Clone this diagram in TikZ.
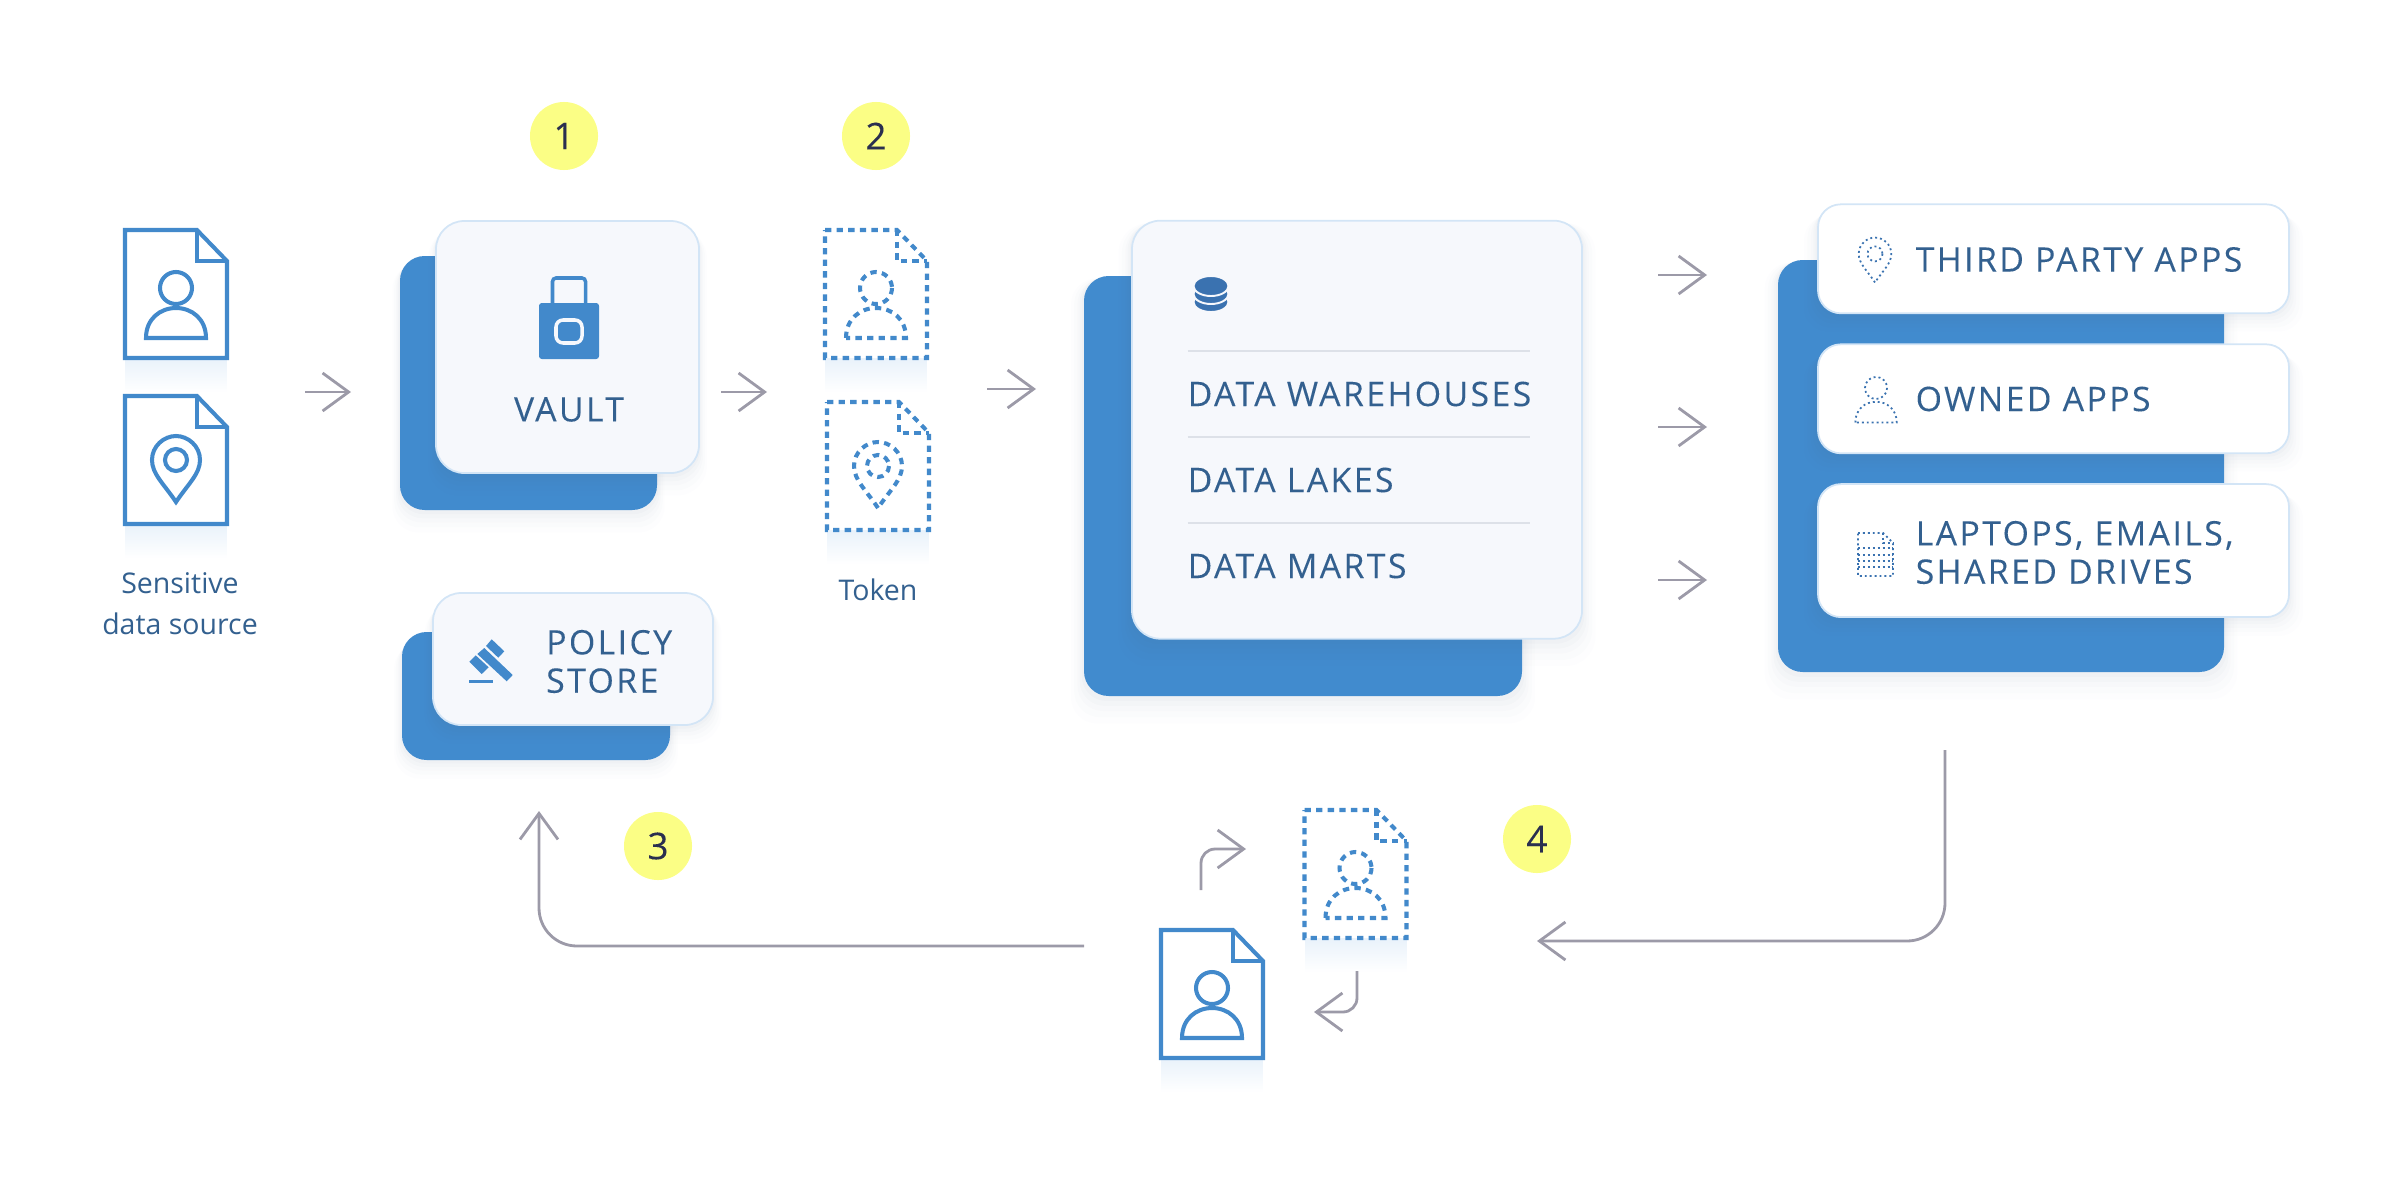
\documentclass[tikz,border=0pt]{standalone}
\usepackage{fontspec}
\setmainfont{Open Sans}
\newfontfamily\capsface[LetterSpace=7.2,FakeBold=.12]{Open Sans}
\newfontfamily\digitface[FakeBold=.15]{Open Sans}
\usetikzlibrary{arrows.meta,shadows,fadings}

\definecolor{panelblue}{HTML}{418BCE}
\definecolor{iconblue}{HTML}{4289CB}
\definecolor{deepblue}{HTML}{3A72B0}
\definecolor{inkblue}{HTML}{33608F}
\definecolor{cardtint}{HTML}{F6F8FC}
\definecolor{cardedge}{HTML}{D3E5F6}
\definecolor{ruletint}{HTML}{DDE1E8}
\definecolor{flowgray}{HTML}{9C9AA8}
\definecolor{badgetint}{HTML}{FBFE85}
\definecolor{badgeink}{HTML}{2A2F4F}
\definecolor{castgray}{HTML}{5A6F8C}
\definecolor{castblue}{HTML}{8FBDE8}

\tikzset{
	boxsize/.style 2 args={minimum width=#1*0.01cm, minimum height=#2*0.01cm, inner sep=0pt},
	softcast/.style={
		general shadow={fill=castgray, opacity=.012, shadow yshift=-4pt, shadow scale=1.06},
		general shadow={fill=castgray, opacity=.016, shadow yshift=-3.2pt, shadow scale=1.045},
		general shadow={fill=castgray, opacity=.02, shadow yshift=-2.4pt, shadow scale=1.03},
		general shadow={fill=castgray, opacity=.024, shadow yshift=-1.6pt, shadow scale=1.02},
		general shadow={fill=castgray, opacity=.03, shadow yshift=-.8pt, shadow scale=1.01}},
	backpanel/.style={rectangle, fill=panelblue, rounded corners=7pt, softcast},
	frontcard/.style={rectangle, fill=cardtint, draw=cardedge, line width=.5pt, rounded corners=8pt, softcast},
	whitecard/.style={frontcard, fill=white, rounded corners=6.5pt},
	capslabel/.style={text=inkblue, inner sep=0pt, font=\capsface\fontsize{9.6}{10.9}\selectfont, align=left},
	smalllabel/.style={text=inkblue, inner sep=0pt, font=\fontsize{8.1}{11.6}\selectfont, align=center},
	badge/.style={circle, fill=badgetint, minimum size=.68cm, inner sep=0pt, text=badgeink, font=\digitface\fontsize{10.5}{12}\selectfont},
	flow/.style={->, draw=flowgray, line width=.8pt},
	solidicon/.style={color=iconblue, line width=1.15pt},
	tokenicon/.style={color=iconblue, line width=1.15pt, dash pattern=on 1.8pt off 1.5pt},
	fineicon/.style={color=deepblue, line width=.5pt, dash pattern=on .55pt off .85pt},
	sheet/.pic={
		\fill[castblue, opacity=.2, path fading=south] (-51,64) rectangle (51,98);
		\draw[fill=white] (-51,-64) -- (21,-64) -- (51,-33) -- (51,64) -- (-51,64) -- cycle;
		\draw (21,-64) -- (21,-33) -- (51,-33);
	},
	personmark/.pic={
		\draw (0,-17) circle (16);
		\draw (-30,33) .. controls (-30,14) and (-16,3) .. (0,3) .. controls (16,3) and (30,14) .. (30,33) -- cycle;
	},
	pinmark/.pic={
		\draw (0,33) .. controls (-12,15) and (-24,5) .. (-24,-9) .. controls (-24,-23) and (-12,-33) .. (0,-33) .. controls (12,-33) and (24,-23) .. (24,-9) .. controls (24,5) and (12,15) .. (0,33) -- cycle;
		\draw (0,-9) circle (11);
	},
}

\begin{document}
\begin{tikzpicture}[x=0.01cm, y=-0.01cm, >={Straight Barb[length=7.4pt, width=10.8pt]}]
	\useasboundingbox (0,0) rectangle (2400,1200);

	% panels
	\node[backpanel, boxsize={257}{254}] (vaultBack) at (528.5,383) {};
	\node[frontcard, boxsize={263}{252}] (vaultCard) at (567.5,347) {};
	\node[backpanel, boxsize={268}{128}] (policyBack) at (536,696) {};
	\node[frontcard, boxsize={280}{132}] (policyCard) at (573,659) {};
	\node[backpanel, boxsize={438}{420}] (dataBack) at (1303,486) {};
	\node[frontcard, boxsize={450}{418}] (dataCard) at (1357,429.7) {};
	\node[backpanel, boxsize={446}{412}] (appsBack) at (2001,466) {};
	\node[whitecard, boxsize={471}{109}] (thirdCard) at (2053.5,258.8) {};
	\node[whitecard, boxsize={471}{109}] (ownedCard) at (2053.5,398.8) {};
	\node[whitecard, boxsize={471}{133}] (laptopCard) at (2053.5,550.6) {};

	% badges
	\node[badge] (stepOne) at (564,136) {1};
	\node[badge] (stepTwo) at (876,136) {2};
	\node[badge] (stepThree) at (658,846) {3};
	\node[badge] (stepFour) at (1537,839) {4};

	% documents
	\pic[solidicon] at (176,294) {sheet};
	\pic[solidicon] at (176,305) {personmark};
	\pic[solidicon] at (176,460) {sheet};
	\pic[solidicon] at (176,469) {pinmark};
	\pic[tokenicon] at (876,294) {sheet};
	\pic[tokenicon] at (876,305) {personmark};
	\pic[tokenicon] at (878,466) {sheet};
	\pic[tokenicon] at (878,475) {pinmark};
	\pic[tokenicon] at (1355.5,874) {sheet};
	\pic[tokenicon] at (1355.5,885) {personmark};
	\pic[solidicon] at (1212,994) {sheet};
	\pic[solidicon] at (1212,1005) {personmark};

	% vault
	\draw[iconblue, line width=1pt, rounded corners=1pt] (552.5,303) -- (552.5,278) -- (585.5,278) -- (585.5,303);
	\fill[iconblue, rounded corners=.8pt] (539,303) rectangle (599,359);
	\draw[cardtint, fill=iconblue, line width=1pt, rounded corners=2pt] (556,320) rectangle (582,343);
	\node[capslabel] (vaultText) at (569,409.5) {VAULT};

	% policy store
	\fill[iconblue] (491.7,639.3) -- (504.3,651.3) -- (498.3,657.7) -- (486,646) -- cycle;
	\fill[iconblue] (484.3,648) -- (512.7,675) -- (506.7,681.3) -- (477.3,654) -- cycle;
	\fill[iconblue] (475.7,655.3) -- (488.7,667.3) -- (481.7,674) -- (469.3,661.7) -- cycle;
	\draw[iconblue, line width=.85pt] (469.3,681.3) -- (493.3,681.3);
	\node[capslabel, anchor=west] (policyText) at (545.5,661.5) {POLICY\\STORE};

	% data stores
	\foreach \yy in {302,294,286}
		\draw[cardtint, fill=deepblue, line width=.55pt] (1211,\yy) ellipse [x radius=17.5, y radius=10];
	\foreach \yy in {351,437,523}
		\draw[ruletint, line width=.5pt] (1187.5,\yy) -- (1529.5,\yy);
	\node[capslabel, anchor=west] (warehouseText) at (1187,394) {DATA WAREHOUSES};
	\node[capslabel, anchor=west] (lakeText) at (1187,480) {DATA LAKES};
	\node[capslabel, anchor=west] (martText) at (1187,566) {DATA MARTS};

	% consumers
	\pic[fineicon, scale=.68] at (1875,260) {pinmark};
	\pic[fineicon, scale=.69] at (1876,399.7) {personmark};
	\draw[fineicon] (1858,533) -- (1883,533) -- (1893,543) -- (1893,576) -- (1858,576) -- cycle;
	\draw[fineicon] (1883,533) -- (1883,543) -- (1893,543);
	\foreach \yy in {548,555,561,567}
		\draw[fineicon] (1858,\yy) -- (1893,\yy);
	\node[capslabel, anchor=west] (thirdText) at (1915,259.5) {THIRD PARTY APPS};
	\node[capslabel, anchor=west] (ownedText) at (1915,399) {OWNED APPS};
	\node[capslabel, anchor=west] (laptopText) at (1915,552.5) {LAPTOPS, EMAILS,\\SHARED DRIVES};

	% captions
	\node[smalllabel] (sourceText) at (180,604) {Sensitive\\data source};
	\node[smalllabel] (tokenText) at (878,590) {Token};

	% connector ends
	\coordinate (sourceOut) at (305,392);
	\coordinate (vaultIn) at (351,392);
	\coordinate (vaultOut) at (721,392);
	\coordinate (tokenIn) at (767,392);
	\coordinate (tokenOut) at (987,389);
	\coordinate (dataIn) at (1036,389);
	\coordinate (dataOutA) at (1658,275);
	\coordinate (appsInA) at (1707,275);
	\coordinate (dataOutB) at (1658,427);
	\coordinate (appsInB) at (1707,427);
	\coordinate (dataOutC) at (1658,580);
	\coordinate (appsInC) at (1707,580);
	\coordinate (appsOut) at (1945,750);
	\coordinate (loopIn) at (1537,941);
	\coordinate (loopOut) at (1084,946);
	\coordinate (policyIn) at (539,811);
	\coordinate (tokenizeOut) at (1201,890);
	\coordinate (tokenizeIn) at (1246,849);
	\coordinate (detokOut) at (1357,971);
	\coordinate (detokIn) at (1314,1012);

	% connectors
	\draw[flow] (sourceOut) -- (vaultIn);
	\draw[flow] (vaultOut) -- (tokenIn);
	\draw[flow] (tokenOut) -- (dataIn);
	\draw[flow] (dataOutA) -- (appsInA);
	\draw[flow] (dataOutB) -- (appsInB);
	\draw[flow] (dataOutC) -- (appsInC);
	\draw[flow, rounded corners=10.8pt] (appsOut) |- (loopIn);
	\draw[flow, rounded corners=10.8pt] (loopOut) -| (policyIn);
	\draw[flow, rounded corners=4pt] (tokenizeOut) |- (tokenizeIn);
	\draw[flow, rounded corners=4pt] (detokOut) |- (detokIn);
\end{tikzpicture}
\end{document}
